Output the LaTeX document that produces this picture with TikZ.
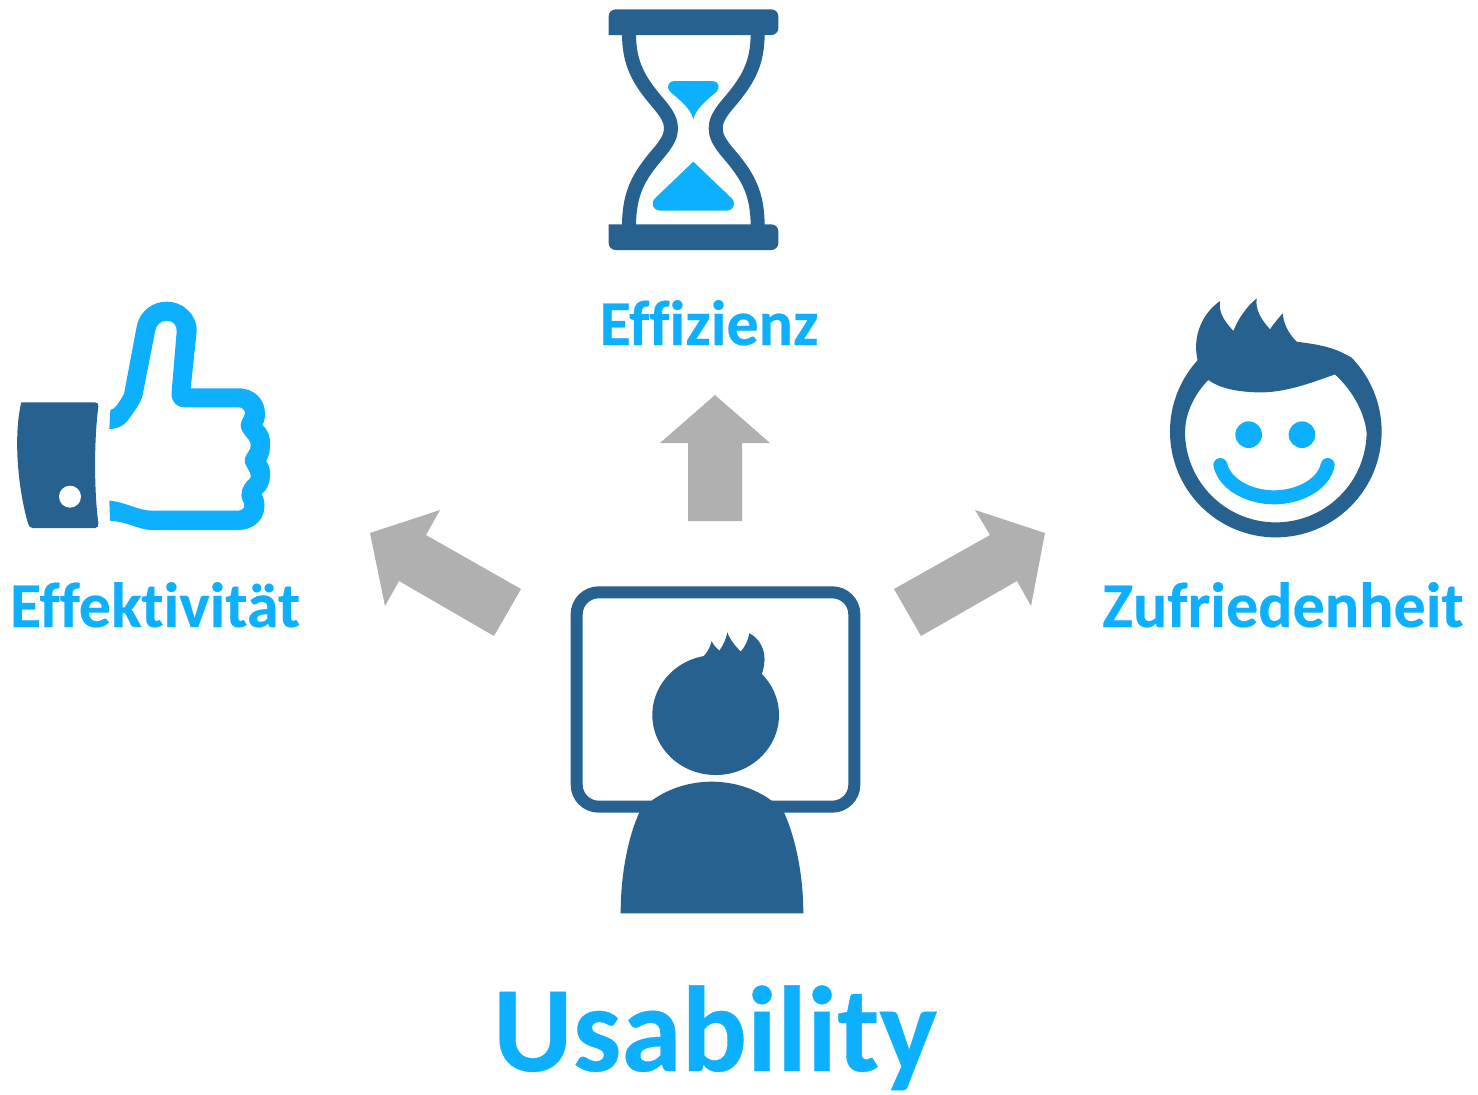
\documentclass[tikz,border=0pt]{standalone}
\usepackage{fontspec}
\setmainfont{Carlito}[Ligatures=NoCommon,BoldFeatures={FakeBold=0.3}]
\definecolor{darkblue}{HTML}{26618F}
\definecolor{lightblue}{HTML}{0DB0FF}
\definecolor{arrowgray}{HTML}{B0B0B0}
\begin{document}
\begin{tikzpicture}[x=0.5pt,y=-0.5pt]
  \tikzset{dark/.style = {fill=darkblue,draw=none}}
  \tikzset{light/.style = {fill=lightblue,draw=none}}
  \tikzset{bigarrow/.style = {fill=arrowgray,draw=none}}
  \tikzset{caption/.style = {text=lightblue,font=\bfseries\fontsize{32}{40}\selectfont,inner sep=0pt,anchor=base}}

  \useasboundingbox (0,0) rectangle (1478,1094);

  % arrows
  \fill[bigarrow] (715,395) -- (770,443) -- (742,443) -- (742,521) -- (688,521) -- (688,443) -- (660,443) -- cycle;
  \fill[bigarrow] (370,533) -- (440,510) -- (426,535) -- (521,589) -- (494,636) -- (399,581) -- (385,606) -- cycle;
  \fill[bigarrow] (1045,533) -- (975,510) -- (990,535) -- (894,589) -- (921,636) -- (1017,581) -- (1031,606) -- cycle;

  % thumb
  \begin{scope}[shift={(0,290)},scale=1/3]
    \fill[dark] (65,337) -- (285,337) .. controls (293,337) and (296,342) .. (295,350)
      .. controls (282,450) and (282,600) .. (295,700) .. controls (296,708) and (293,714) .. (285,714)
      -- (98,714) .. controls (90,714) and (86,708) .. (84,700) .. controls (55,600) and (40,450) .. (62,345)
      .. controls (63,339) and (63,337) .. (65,337) -- cycle;
    \fill[white] (210,620) circle [radius=33];
    \fill[light] (328,417) -- (331,360) .. controls (345,358) and (355,340) .. (372,312)
      -- (410,110) .. controls (420,60) and (460,35) .. (500,35) .. controls (550,35) and (592,75) .. (590,125)
      -- (572,295) -- (715,295) .. controls (765,295) and (795,330) .. (795,370) .. controls (795,385) and (792,398) .. (787,405)
      .. controls (805,420) and (812,445) .. (810,465) .. controls (810,485) and (807,500) .. (798,512)
      .. controls (807,525) and (812,540) .. (810,560) .. controls (808,585) and (800,600) .. (785,612)
      .. controls (792,625) and (795,640) .. (793,655) .. controls (790,695) and (755,720) .. (715,720)
      -- (455,720) .. controls (420,720) and (380,695) .. (330,692) -- (328,632)
      .. controls (375,635) and (415,662) .. (455,662) -- (715,662) .. controls (733,662) and (738,645) .. (728,632)
      .. controls (718,610) and (730,585) .. (742,573) .. controls (752,565) and (755,560) .. (750,548)
      .. controls (742,530) and (730,520) .. (735,505) .. controls (738,490) and (755,480) .. (752,462)
      .. controls (750,445) and (722,430) .. (722,405) .. controls (722,390) and (738,375) .. (735,365)
      .. controls (733,357) and (725,352) .. (715,352)
      -- (555,352) .. controls (530,352) and (512,335) .. (515,305) -- (530,125) .. controls (532,105) and (518,92) .. (500,92)
      .. controls (482,92) and (468,105) .. (465,125) -- (428,315) .. controls (420,345) and (395,375) .. (380,395)
      .. controls (365,412) and (345,417) .. (328,417) -- cycle;
  \end{scope}

  % hourglass
  \begin{scope}[shift={(590,0)},scale=1/3]
    \foreach \side/\bow/\slant/\bend/\pinch in {117/145/205/235/243, 503/475/415/385/377}
      \draw[darkblue,line width=7pt] (\side,100) .. controls (\side,190) and (\bow,240) .. (\slant,310)
        .. controls (\bend,345) and (\pinch,365) .. (\pinch,385)
        .. controls (\pinch,405) and (\bend,425) .. (\slant,460)
        .. controls (\bow,530) and (\side,580) .. (\side,680);
    \fill[dark] (56,105) [rounded corners=3.5pt] -- (56,28) -- (565,28) -- (565,105) [sharp corners] -- cycle;
    \fill[dark] (56,673) [rounded corners=3.5pt] -- (56,750) -- (565,750) -- (565,673) [sharp corners] -- cycle;
    \fill[light] (252,243) -- (368,243) .. controls (385,243) and (392,262) .. (380,275)
      .. controls (350,300) and (318,325) .. (310,358) .. controls (302,325) and (270,300) .. (240,275)
      .. controls (228,262) and (235,243) .. (252,243) -- cycle;
    \fill[light] (310,485) -- (425,595) .. controls (440,610) and (430,632) .. (410,632) -- (210,632)
      .. controls (190,632) and (180,610) .. (195,595) -- cycle;
  \end{scope}

  % smiley
  \begin{scope}[shift={(1150,285)},scale=1/3]
    \draw[darkblue,line width=7.5pt] (586,231) arc [start angle=-45,end angle=225,radius=295];
    \fill[dark] (150,250) .. controls (120,170) and (150,90) .. (210,48) .. controls (205,85) and (225,110) .. (250,138)
      .. controls (265,100) and (290,65) .. (320,40) .. controls (315,75) and (335,105) .. (360,133)
      .. controls (372,115) and (385,100) .. (398,85) .. controls (400,115) and (415,145) .. (440,170)
      .. controls (500,178) and (550,185) .. (601,216) -- (660,320) -- (665,440) -- (650,440)
      .. controls (640,370) and (600,310) .. (555,268) .. controls (480,295) and (400,325) .. (320,322)
      .. controls (260,320) and (210,310) .. (175,285) .. controls (135,325) and (105,385) .. (105,440)
      -- (90,440) -- (110,310) -- cycle;
    \foreach \eyex in {296,456}
      \fill[light] (\eyex,449) circle [radius=40];
    \draw[lightblue,line width=7pt,line cap=round] (211,540) .. controls (225,600) and (300,637) .. (372,637)
      .. controls (445,637) and (520,600) .. (533,540);
  \end{scope}

  % person at screen
  \begin{scope}[shift={(560,580)},scale=1/3]
    \draw[darkblue,line width=6pt,rounded corners=11pt] (50,37) rectangle (883,680);
    \fill[dark] (467,405) ellipse [x radius=190,y radius=180];
    \fill[dark] (425,235) .. controls (440,220) and (450,205) .. (455,183) .. controls (460,195) and (470,205) .. (478,212)
      .. controls (490,195) and (498,178) .. (502,157) .. controls (510,180) and (528,200) .. (542,215)
      .. controls (555,200) and (565,180) .. (568,160) .. controls (600,175) and (620,215) .. (612,255)
      .. controls (610,268) and (608,276) .. (605,283) -- (520,330) -- cycle;
    \fill[dark] (182,1000) .. controls (182,880) and (205,770) .. (238,697) -- (275,662)
      .. controls (330,622) and (395,605) .. (455,605) .. controls (520,605) and (585,625) .. (635,662)
      -- (672,697) .. controls (705,770) and (730,880) .. (730,1000) -- cycle;
  \end{scope}

  % labels
  \node[caption] (Effizienz) at (709,345) {Effizienz};
  \node[caption] (Effektivitaet) at (155,627) {Effektivität};
  \node[caption] (Zufriedenheit) at (1283,627) {Zufriedenheit};
  \node[caption,font=\bfseries\fontsize{61}{70}\selectfont] (Usability) at (715,1071) {Usability};
\end{tikzpicture}
\end{document}
